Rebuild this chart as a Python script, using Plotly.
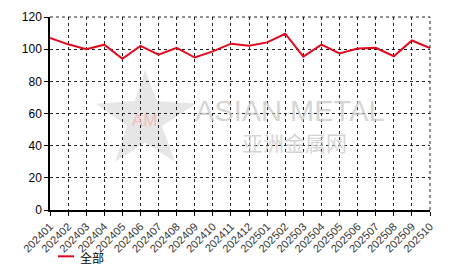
import plotly.graph_objects as go

months = ["202401","202402","202403","202404","202405","202406","202407","202408",
          "202409","202410","202411","202412","202501","202502","202503","202504",
          "202505","202506","202507","202508","202509","202510"]
values = [107.0, 103.0, 100.0, 102.8, 94.0, 102.0, 96.6, 100.8,
          94.8, 98.6, 103.4, 102.2, 104.2, 109.6, 95.4, 102.8,
          97.4, 100.4, 100.8, 95.6, 105.4, 100.6]
series_name = "全部"
y_ticks = [0, 20, 40, 60, 80, 100, 120]

W, H = 466, 272
L, R, T, B = 50, 36, 10, 62
PW, PH = W - L - R, H - T - B

def px(x):
    return (x - L) / PW

def py(y):
    return (H - B - y) / PH

fig = go.Figure()
fig.add_trace(go.Scatter(x=months, y=values, mode="lines", name=series_name,
                         line=dict(color="#e00a1e", width=2), showlegend=False))

# watermark star
star_pts = [(145, 65), (157, 97), (196, 100), (162, 123), (175, 160),
            (145, 140), (115, 160), (127, 123), (96, 100), (135, 97)]
path = "M " + " L ".join(f"{px(x)},{py(y)}" for x, y in star_pts) + " Z"
fig.add_shape(type="path", path=path, xref="paper", yref="paper",
              fillcolor="rgba(200,200,200,0.45)", line=dict(width=0), layer="below")
fig.add_annotation(x=px(145), y=py(117), xref="paper", yref="paper", text="AM",
                   xanchor="center", yanchor="middle",
                   showarrow=False, font=dict(family="Liberation Sans", size=17, color="rgba(250,175,180,0.8)"))
fig.add_annotation(x=px(290), y=py(107), xref="paper", yref="paper", text="ASIAN METAL",
                   xanchor="center", yanchor="middle",
                   showarrow=False, font=dict(family="Liberation Sans", size=29, color="rgba(200,200,200,0.75)"))
fig.add_annotation(x=px(294), y=py(140), xref="paper", yref="paper", text="亚洲金属网",
                   xanchor="center", yanchor="middle",
                   showarrow=False, font=dict(family="Noto Sans CJK SC", size=21, color="rgba(200,200,200,0.75)"))

# manual legend
fig.add_shape(type="line", xref="paper", yref="paper", x0=px(58), x1=px(74), y0=py(258), y1=py(258),
              line=dict(color="#e00a1e", width=2))
fig.add_annotation(x=px(78), y=py(259), xref="paper", yref="paper", text=series_name,
                   xanchor="left", yanchor="middle", showarrow=False,
                   font=dict(family="Noto Sans CJK SC", size=12, color="#000"))

fig.update_layout(
    width=W, height=H, margin=dict(l=L, r=R, t=T, b=B),
    paper_bgcolor="white", plot_bgcolor="white",
    font=dict(family="Liberation Sans", size=11, color="#000"),
)
fig.update_xaxes(type="category", categoryorder="array", categoryarray=months,
                 range=[0, len(months) - 1], tickangle=-45,
                 showgrid=True, gridcolor="#222", griddash="dot", gridwidth=1,
                 showline=True, linecolor="#000", linewidth=1.5,
                 ticks="outside", ticklen=4, tickcolor="#000",
                 tickfont=dict(size=11, color="#333"), mirror=False)
fig.update_yaxes(range=[0, 120], tickvals=y_ticks,
                 showgrid=True, gridcolor="#222", griddash="dot", gridwidth=1,
                 showline=True, linecolor="#000", linewidth=1.5,
                 ticks="outside", ticklen=4, tickcolor="#000",
                 tickfont=dict(size=12, color="#000"), zeroline=False)
fig.add_shape(type="line", xref="paper", yref="paper", x0=0, x1=1, y0=1, y1=1,
              line=dict(color="#222", width=1, dash="dot"))
fig.add_shape(type="line", xref="paper", yref="paper", x0=1, x1=1, y0=0, y1=1,
              line=dict(color="#222", width=1, dash="dot"))

fig.write_html("out.html")
